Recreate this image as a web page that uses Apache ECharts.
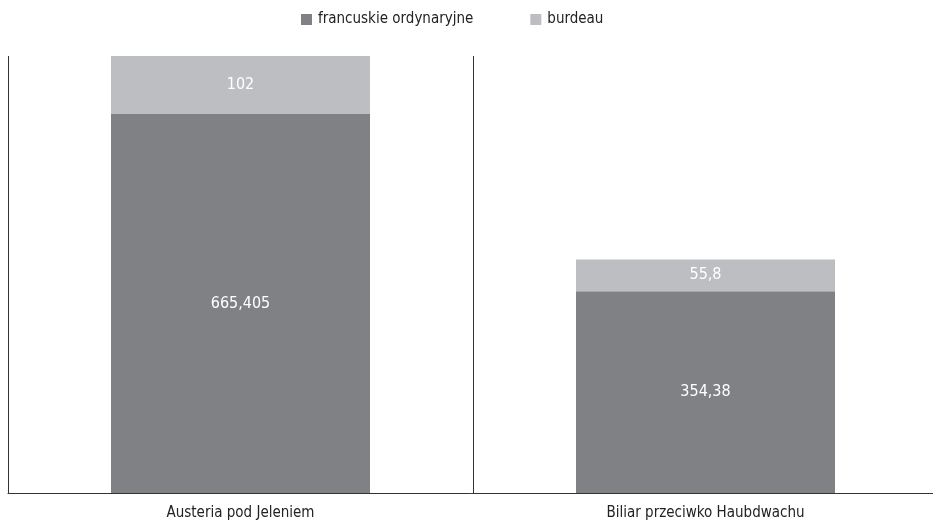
<!DOCTYPE html>
<html><head><meta charset="utf-8">
<script src="https://cdn.jsdelivr.net/npm/echarts@6/dist/echarts.min.js"></script>
<style>html,body{margin:0;padding:0;background:#fff}#c{width:933px;height:524px}</style>
</head><body><div id="c"></div>
<script>
var categories = ['Austeria pod Jeleniem', 'Biliar przeciwko Haubdwachu'];
var seriesNames = ['francuskie ordynaryjne', 'burdeau'];
var francuskie = [665.405, 354.38];
var burdeau = [102, 55.8];

var FONT = '"DejaVu Sans Condensed", "Liberation Sans Narrow", sans-serif';
function fmt(p){ return String(p.value).replace('.', ','); }

var chart = echarts.init(document.getElementById('c'), null, {renderer:'canvas'});
chart.setOption({
  animation: false,
  textStyle: {fontFamily: FONT},
  legend: {
    top: 7, left: 296, itemWidth: 11, itemHeight: 11, itemGap: 57,
    icon: 'rect',
    textStyle: {fontFamily: FONT, fontSize: 15, color: '#222', padding: [0,0,0,1]},
    data: seriesNames
  },
  grid: {left: 8, top: 56, right: -5, bottom: 31, containLabel: false, outerBoundsMode: 'none'},
  xAxis: {
    type: 'category', data: categories,
    axisLine: {show: true, lineStyle: {color: '#333', width: 1}},
    axisTick: {show: false},
    axisLabel: {fontFamily: FONT, fontSize: 15, color: '#222', margin: 13},
    splitLine: {show: true, lineStyle: {color: '#333', width: 1}}
  },
  yAxis: {
    type: 'value', min: 0, max: 'dataMax',
    axisLine: {show: false}, axisTick: {show: false}, axisLabel: {show: false},
    splitLine: {show: false}
  },
  series: [
    {name: seriesNames[0], type: 'bar', stack: 's', data: francuskie, barWidth: '55.7%',
     itemStyle: {color: '#808185'},
     label: {show: true, position: 'inside', color: '#fff', fontFamily: FONT, fontSize: 16, formatter: fmt}},
    {name: seriesNames[1], type: 'bar', stack: 's', data: burdeau, barWidth: '55.7%',
     itemStyle: {color: '#bdbec2'},
     label: {show: true, position: 'inside', color: '#fff', fontFamily: FONT, fontSize: 16, formatter: fmt}}
  ]
});
</script></body></html>
